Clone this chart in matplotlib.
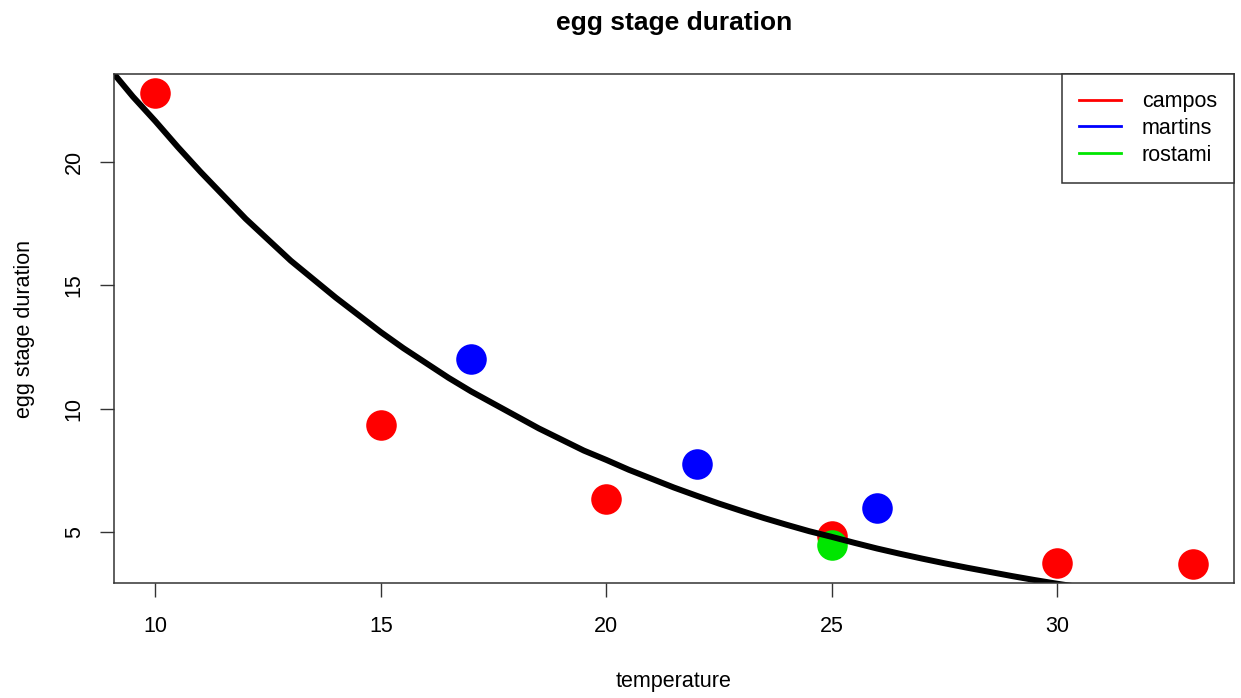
import matplotlib
matplotlib.use('Agg')
import matplotlib.pyplot as plt
from matplotlib.lines import Line2D

plt.rcParams['font.family'] = ['Liberation Sans', 'DejaVu Sans']

# observed durations per source
camposTemp = [10, 15, 20, 25, 30, 33]
camposDur = [22.8, 9.35, 6.35, 4.85, 3.75, 3.7]
martinsTemp = [17, 22, 26]
martinsDur = [12.0, 7.75, 5.98]
rostamiTemp = [25]
rostamiDur = [4.48]

# fitted curve
curveTemp = [9.0, 9.5, 10, 10.5, 11, 11.5, 12, 12.5, 13, 13.5, 14, 14.5, 15, 15.5,
             16, 16.5, 17, 17.5, 18, 18.5, 19, 19.5, 20, 20.5, 21, 21.5, 22, 22.5,
             23, 23.5, 24, 24.5, 25, 25.5, 26, 26.5, 27, 27.5, 28, 28.5, 29, 29.5,
             30, 30.5]
curveDur = [23.75, 22.65, 21.65, 20.6, 19.6, 18.65, 17.7, 16.85, 16.0, 15.25, 14.5,
            13.8, 13.1, 12.45, 11.85, 11.25, 10.7, 10.2, 9.7, 9.2, 8.75, 8.3, 7.92,
            7.52, 7.16, 6.8, 6.47, 6.15, 5.85, 5.56, 5.29, 5.03, 4.8, 4.56, 4.33,
            4.12, 3.92, 3.73, 3.55, 3.38, 3.21, 3.05, 2.9, 2.76]

seriesNames = ['campos', 'martins', 'rostami']
seriesColors = ['#ff0000', '#0000ff', '#00e600']

xTicks = [10, 15, 20, 25, 30]
yTicks = [5, 10, 15, 20]

fig = plt.figure(figsize=(12.41, 6.98), dpi=100)
ax = fig.add_axes([114/1241, 1 - 583/698, (1234-114)/1241, (583-74)/698])

ax.plot(camposTemp, camposDur, 'o', color=seriesColors[0], markersize=22, markeredgewidth=0)
ax.plot(martinsTemp, martinsDur, 'o', color=seriesColors[1], markersize=22, markeredgewidth=0)
ax.plot(rostamiTemp, rostamiDur, 'o', color=seriesColors[2], markersize=22, markeredgewidth=0)
ax.plot(curveTemp, curveDur, '-', color='black', linewidth=4.3,
        solid_capstyle='butt', solid_joinstyle='round')

ax.set_xlim(9.08, 33.92)
ax.set_ylim(2.93, 23.57)
ax.set_xticks(xTicks)
ax.set_yticks(yTicks)
ax.tick_params(axis='x', length=10, width=1, labelsize=15.5, pad=14, color='#333333')
ax.tick_params(axis='y', length=10, width=1, labelsize=15.5, pad=11, color='#333333')
for lab in ax.get_yticklabels():
    lab.set_rotation(90)
    lab.set_va('center')
for sp in ax.spines.values():
    sp.set_color('#333333')
    sp.set_linewidth(1.1)

ax.set_xlabel('temperature', fontsize=15.5, labelpad=24)
ax.set_ylabel('egg stage duration', fontsize=15.5, labelpad=21)
ax.set_title('egg stage duration', fontsize=19, fontweight='bold', pad=32)

handles = [Line2D([0], [0], color=c, linewidth=2) for c in seriesColors]
leg = ax.legend(handles, seriesNames, loc='upper right', fontsize=15.5,
                borderaxespad=0, fancybox=False, framealpha=1, edgecolor='#333333',
                handlelength=1.95, handletextpad=0.95, labelspacing=0.27, borderpad=0.8)
leg.get_frame().set_linewidth(1.1)

fig.savefig('out.png', dpi=100)
